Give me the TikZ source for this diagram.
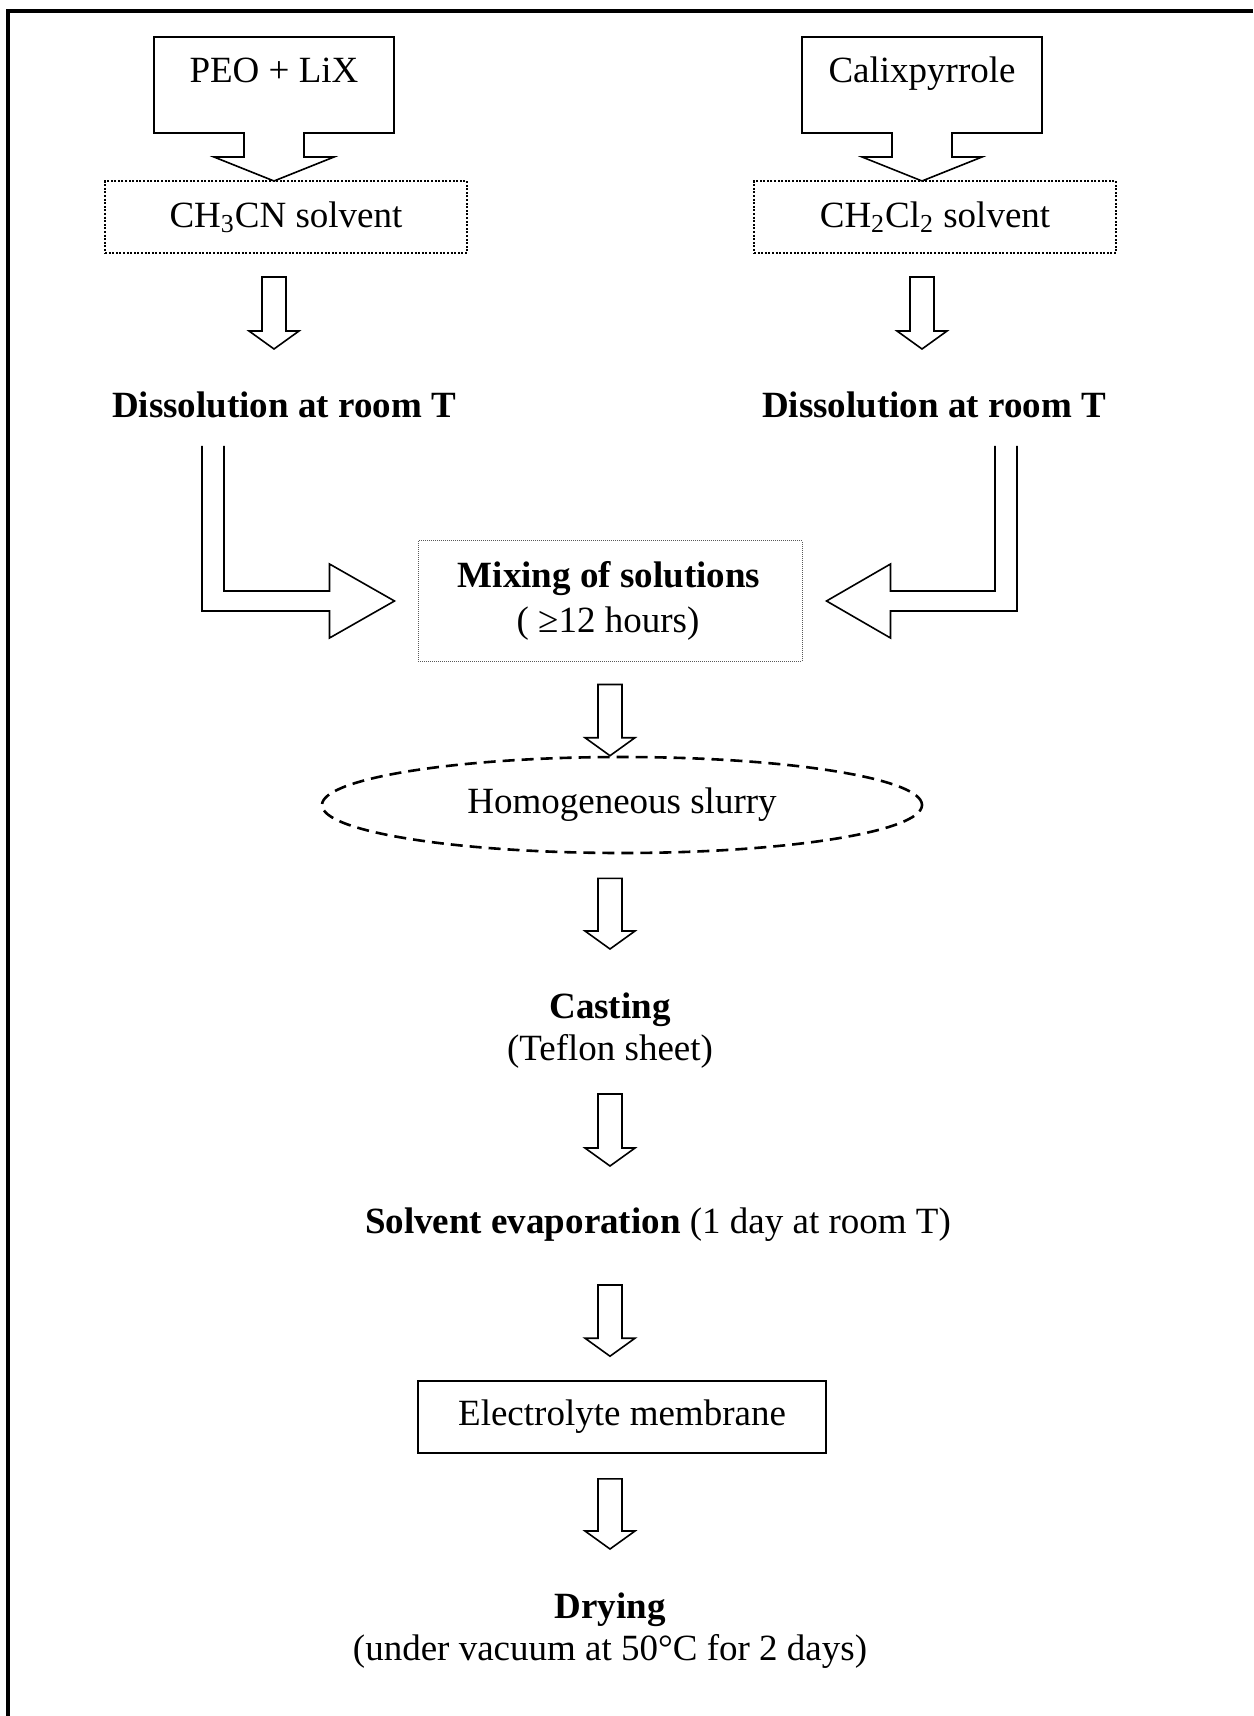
\documentclass[tikz,border=0pt]{standalone}
\usepackage{fontspec}
\setmainfont{Liberation Serif}
\usetikzlibrary{calc}
\usetikzlibrary{shapes.geometric}

\tikzset{
  hollow/.style={black, line width=0.8pt, line join=miter},
  solventbox/.style={draw, line width=1pt, dash pattern=on 1pt off 0.8pt, minimum width=181pt, minimum height=36pt, inner sep=0pt},
  mixbox/.style={draw=black!65, line width=0.5pt, dash pattern=on 0.5pt off 0.5pt, minimum width=192pt, minimum height=60pt},
  slurryshape/.style={ellipse, draw, line width=1.3pt, dash pattern=on 6pt off 3.5pt, minimum width=300pt, minimum height=48pt, inner sep=0pt},
  membbox/.style={draw, line width=0.8pt, minimum width=204pt, minimum height=36pt},
}

% hollow down arrow: #1 gives the top, #2 the tip
\newcommand{\hollowdown}[2]{%
  \draw[hollow] let \p1=#1, \p2=#2 in
    (\x2-6pt,\y1) -- (\x2+6pt,\y1) -- (\x2+6pt,\y2+9pt) -- (\x2+12.5pt,\y2+9pt)
    -- (\x2,\y2) -- (\x2-12.5pt,\y2+9pt) -- (\x2-6pt,\y2+9pt) -- cycle;}

\begin{document}
\begin{tikzpicture}[x=0.5pt, y=-0.5pt, font=\fontsize{18.5}{22}\selectfont]
            \useasboundingbox (0,0) rectangle (1253,1716);
            \draw[line width=2pt] (1253,11) -- (8,11) -- (8,1716);
            % starting materials
            \draw[hollow] (154,37) -- (394,37) -- (394,133) -- (304,133) -- (304,157) -- (334,157) -- (274,181) -- (214,157) -- (244,157) -- (244,133) -- (154,133) -- cycle;
            \draw[hollow] (802,37) -- (1042,37) -- (1042,133) -- (952,133) -- (952,157) -- (982,157) -- (922,181) -- (862,157) -- (892,157) -- (892,133) -- (802,133) -- cycle;
            \node[anchor=base] (peo) at (274,83){PEO + LiX};
            \node[anchor=base] (calix) at (922,83){Calixpyrrole};
            \node[solventbox] (solvA) at (286,217){CH\textsubscript{3}CN solvent};
            \node[solventbox] (solvB) at (935,217){CH\textsubscript{2}Cl\textsubscript{2} solvent};
            \node[anchor=base] (dissA) at (284,418){\textbf{Dissolution at room T}};
            \node[anchor=base] (dissB) at (934,418){\textbf{Dissolution at room T}};
            % mixing
            \node[mixbox] (mix) at (610,601){};
            \node[anchor=base] (mixT) at (609,587){\textbf{Mixing of solutions}};
            \node[anchor=base] (mixH) at (608,632){( ≥12 hours)};
            \node[slurryshape] (slurry) at (622,805){Homogeneous slurry};
            \node[anchor=base] (cast) at (610,1018){\textbf{Casting}};
            \node[anchor=base] (teflon) at (610,1060){(Teflon sheet)};
            \node[anchor=base] (evap) at (658,1233){\textbf{Solvent evaporation} (1 day at room T)};
            \node[membbox] (memb) at (622,1417){Electrolyte membrane};
            \node[anchor=base] (dry) at (610,1618){\textbf{Drying}};
            \node[anchor=base] (cond) at (610,1660){(under vacuum at 50°C for 2 days)};
            % arrows
            \hollowdown{($(solvA.south)+(-12,23)$)}{($(dissA.base)+(-10,-69)$)}
            \hollowdown{($(solvB.south)+(-13,23)$)}{($(dissB.base)+(-12,-69)$)}
            \draw[hollow] let \p1=($(dissA.base)+(-71,28)$), \p2=($(mix.west)+(-23,0)$) in
                (\x1-5.5pt,\y1) -- (\x1-5.5pt,\y2-5pt) -- (\x2-32.5pt,\y2-5pt) -- (\x2-32.5pt,\y2-18.5pt) -- (\x2,\y2)
                -- (\x2-32.5pt,\y2+18.5pt) -- (\x2-32.5pt,\y2+5pt) -- (\x1+5.5pt,\y2+5pt) -- (\x1+5.5pt,\y1);
            \draw[hollow] let \p1=($(dissB.base)+(72,28)$), \p2=($(mix.east)+(24,0)$) in
                (\x1+5.5pt,\y1) -- (\x1+5.5pt,\y2-5pt) -- (\x2+32pt,\y2-5pt) -- (\x2+32pt,\y2-18.5pt) -- (\x2,\y2)
                -- (\x2+32pt,\y2+18.5pt) -- (\x2+32pt,\y2+5pt) -- (\x1-5.5pt,\y2+5pt) -- (\x1-5.5pt,\y1);
            \hollowdown{($(mix.south)+(0,23)$)}{($(slurry.north)+(-12,0)$)}
            \hollowdown{($(slurry.south)+(-12,24)$)}{($(cast.base)+(0,-69)$)}
            \hollowdown{($(teflon.base)+(0,34)$)}{($(evap.base)+(-48,-67)$)}
            \hollowdown{($(evap.base)+(-48,52)$)}{($(memb.north)+(-12,-24)$)}
            \hollowdown{($(memb.south)+(-12,25)$)}{($(dry.base)+(0,-69)$)}
\end{tikzpicture}
\end{document}
